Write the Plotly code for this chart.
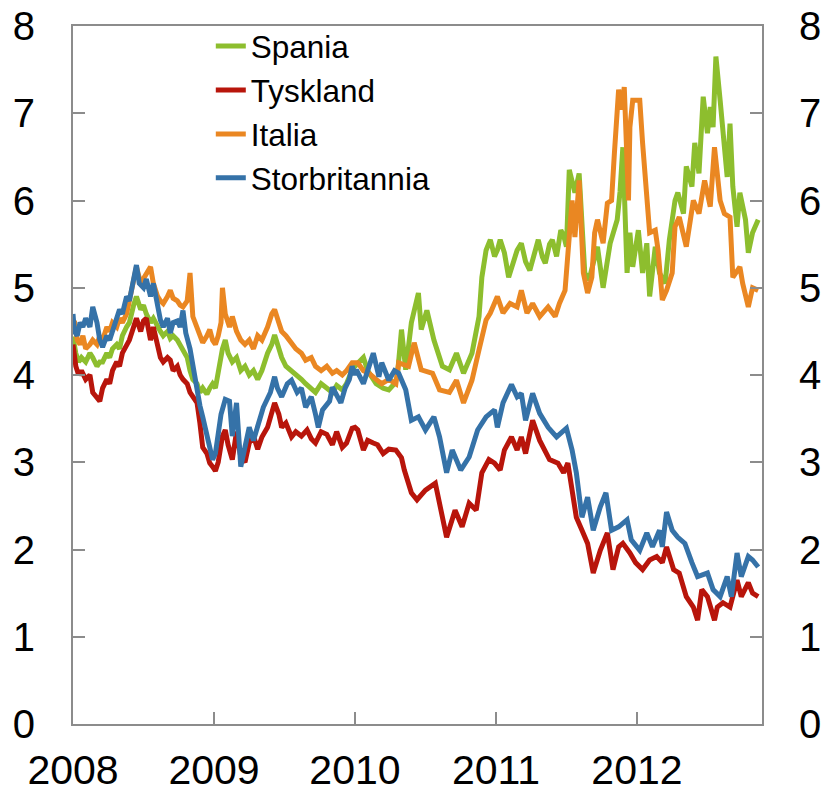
import plotly.graph_objects as go

# ---- Data (decimal years, percent) ----
spania_t = [2008.00, 2008.02, 2008.04, 2008.06, 2008.09, 2008.12, 2008.14, 2008.17, 2008.19, 2008.21,
            2008.24, 2008.26, 2008.28, 2008.31, 2008.33, 2008.35, 2008.38, 2008.40, 2008.43, 2008.45,
            2008.48, 2008.50, 2008.52, 2008.55, 2008.57, 2008.60, 2008.62, 2008.64, 2008.67, 2008.69,
            2008.71, 2008.74, 2008.76, 2008.78, 2008.81, 2008.83, 2008.85, 2008.88, 2008.90, 2008.92,
            2008.95, 2008.97, 2008.99,
            2009.01, 2009.03, 2009.06, 2009.08, 2009.10, 2009.13, 2009.16, 2009.19, 2009.22, 2009.25,
            2009.28, 2009.31, 2009.34, 2009.38, 2009.41, 2009.43, 2009.46, 2009.48, 2009.51, 2009.55,
            2009.58, 2009.62, 2009.65, 2009.69, 2009.72, 2009.76, 2009.80, 2009.84, 2009.87, 2009.91,
            2009.94, 2009.98,
            2010.00, 2010.03, 2010.06, 2010.09, 2010.15, 2010.20, 2010.24, 2010.28, 2010.30, 2010.33,
            2010.36, 2010.40, 2010.45, 2010.47, 2010.51, 2010.56, 2010.62, 2010.67, 2010.72, 2010.77,
            2010.83, 2010.88, 2010.90, 2010.93, 2010.96, 2010.99,
            2011.01, 2011.03, 2011.06, 2011.09, 2011.12, 2011.15, 2011.18, 2011.21, 2011.24, 2011.27,
            2011.30, 2011.33, 2011.35, 2011.38, 2011.40, 2011.43, 2011.46, 2011.48, 2011.50, 2011.52,
            2011.56, 2011.59, 2011.63, 2011.66, 2011.72, 2011.76, 2011.81, 2011.86, 2011.88, 2011.90,
            2011.915, 2011.93, 2011.95, 2011.97,
            2012.01, 2012.04, 2012.07, 2012.09, 2012.13, 2012.16, 2012.20, 2012.23, 2012.27, 2012.29,
            2012.33, 2012.35, 2012.39, 2012.41, 2012.44, 2012.47, 2012.50, 2012.52, 2012.54, 2012.56,
            2012.59, 2012.61, 2012.64, 2012.66, 2012.68, 2012.71, 2012.73, 2012.77, 2012.79, 2012.82,
            2012.86]
spania_v = [4.44, 4.25, 4.15, 4.20, 4.15, 4.25, 4.20, 4.10, 4.15, 4.15,
            4.25, 4.20, 4.30, 4.35, 4.30, 4.45, 4.55, 4.60, 4.80, 4.90,
            4.75, 4.80, 4.70, 4.60, 4.65, 4.55, 4.50, 4.45, 4.50, 4.42,
            4.45, 4.40, 4.35, 4.30, 4.20, 4.05, 3.95, 3.90, 3.80, 3.85,
            3.78, 3.85, 3.90,
            3.85, 4.05, 4.30, 4.40, 4.25, 4.15, 4.20, 4.05, 4.10, 4.00,
            4.05, 3.95, 4.05, 4.25, 4.35, 4.46, 4.30, 4.20, 4.10, 4.05,
            4.00, 3.95, 3.90, 3.85, 3.80, 3.90, 3.85, 3.80, 3.88, 3.83,
            3.90, 4.06,
            4.10, 4.15, 4.20, 4.05, 3.90, 3.85, 3.83, 3.90, 3.98, 4.52,
            4.06, 4.60, 4.94, 4.52, 4.74, 4.40, 4.10, 4.06, 4.25, 4.02,
            4.25, 4.67, 5.12, 5.43, 5.55, 5.36,
            5.43, 5.55, 5.40, 5.12, 5.30, 5.43, 5.51, 5.30, 5.20, 5.40,
            5.55, 5.35, 5.28, 5.50, 5.55, 5.36, 5.66, 5.60, 5.47, 6.35,
            6.09, 6.31, 5.17, 5.09, 5.47, 5.00, 5.51, 5.78, 6.10, 6.61,
            6.04, 5.17, 5.63, 5.24,
            5.66, 5.17, 5.51, 4.90, 5.47, 5.17, 5.05, 5.55, 6.00, 6.09,
            5.85, 6.39, 6.16, 6.66, 6.31, 7.19, 6.77, 7.07, 6.84, 7.65,
            7.15, 6.77, 6.27, 6.88, 6.16, 5.70, 6.09, 5.78, 5.40, 5.63,
            5.78]

tyskland_t = [2008.00, 2008.02, 2008.04, 2008.06, 2008.09, 2008.12, 2008.14, 2008.17, 2008.19, 2008.21,
              2008.24, 2008.26, 2008.28, 2008.31, 2008.33, 2008.35, 2008.38, 2008.40, 2008.43, 2008.45,
              2008.48, 2008.50, 2008.52, 2008.55, 2008.57, 2008.60, 2008.62, 2008.64, 2008.67, 2008.69,
              2008.71, 2008.74, 2008.76, 2008.78, 2008.81, 2008.83, 2008.85, 2008.88, 2008.90, 2008.92,
              2008.95, 2008.97, 2008.99,
              2009.01, 2009.03, 2009.06, 2009.08, 2009.10, 2009.13, 2009.16, 2009.19, 2009.22, 2009.25,
              2009.28, 2009.31, 2009.34, 2009.38, 2009.41, 2009.43, 2009.46, 2009.48, 2009.51, 2009.55,
              2009.58, 2009.62, 2009.66, 2009.69, 2009.72, 2009.76, 2009.80, 2009.84, 2009.87, 2009.91,
              2009.94, 2009.98,
              2010.00, 2010.02, 2010.06, 2010.09, 2010.13, 2010.16, 2010.20, 2010.24, 2010.29, 2010.33,
              2010.35, 2010.40, 2010.44, 2010.50, 2010.57, 2010.62, 2010.65, 2010.71, 2010.76, 2010.81,
              2010.86, 2010.90, 2010.95, 2010.99,
              2011.03, 2011.06, 2011.11, 2011.15, 2011.18, 2011.21, 2011.26, 2011.31, 2011.38, 2011.44,
              2011.48, 2011.51, 2011.54, 2011.57, 2011.61, 2011.65, 2011.69, 2011.74, 2011.79, 2011.83,
              2011.87, 2011.90, 2011.95, 2011.99,
              2012.04, 2012.09, 2012.14, 2012.18, 2012.21, 2012.26, 2012.30, 2012.35, 2012.40, 2012.43,
              2012.46, 2012.50, 2012.55, 2012.57, 2012.61, 2012.66, 2012.71, 2012.74, 2012.79, 2012.82,
              2012.86]
tyskland_v = [4.35, 4.10, 4.00, 4.05, 3.95, 4.00, 3.80, 3.75, 3.70, 3.85,
              3.95, 3.90, 4.05, 4.15, 4.10, 4.25, 4.35, 4.40, 4.55, 4.65,
              4.50, 4.62, 4.65, 4.40, 4.55, 4.30, 4.20, 4.15, 4.20, 4.17,
              4.05, 4.10, 4.00, 3.95, 3.90, 3.80, 3.75, 3.68, 3.45, 3.17,
              3.10, 2.99, 2.95,
              2.90, 3.00, 3.30, 3.37, 3.20, 3.03, 3.35, 3.06, 3.00, 3.22,
              3.30, 3.15, 3.29, 3.40, 3.55, 3.68, 3.55, 3.40, 3.45, 3.29,
              3.35, 3.30, 3.37, 3.27, 3.22, 3.35, 3.32, 3.20, 3.35, 3.17,
              3.22, 3.39,
              3.40, 3.37, 3.14, 3.25, 3.22, 3.20, 3.10, 3.15, 3.14, 3.05,
              2.91, 2.65, 2.57, 2.68, 2.76, 2.37, 2.14, 2.45, 2.26, 2.53,
              2.45, 2.88, 3.03, 2.99,
              2.91, 3.14, 3.29, 3.14, 3.29, 3.10, 3.48, 3.25, 3.03, 2.99,
              2.88, 2.99, 2.68, 2.37, 2.22, 2.07, 1.73, 1.99, 2.19, 1.77,
              2.03, 2.07, 1.96, 1.85,
              1.77, 1.88, 1.92, 1.85, 2.03, 1.77, 1.73, 1.46, 1.34, 1.19,
              1.54, 1.46, 1.19, 1.34, 1.39, 1.34, 1.65, 1.46, 1.62, 1.50,
              1.46]

italia_t = [2008.00, 2008.01, 2008.03, 2008.05, 2008.07, 2008.09, 2008.12, 2008.14, 2008.17, 2008.19,
            2008.21, 2008.24, 2008.26, 2008.28, 2008.31, 2008.33, 2008.35, 2008.38, 2008.40, 2008.43,
            2008.45, 2008.48, 2008.50, 2008.52, 2008.55, 2008.57, 2008.60, 2008.62, 2008.64, 2008.67,
            2008.69, 2008.71, 2008.74, 2008.76, 2008.78, 2008.81, 2008.83, 2008.85, 2008.88, 2008.90,
            2008.92, 2008.95, 2008.97, 2008.99,
            2009.01, 2009.03, 2009.05, 2009.06, 2009.08, 2009.11, 2009.13, 2009.16, 2009.19, 2009.22,
            2009.25, 2009.28, 2009.31, 2009.34, 2009.38, 2009.41, 2009.43, 2009.46, 2009.48, 2009.51,
            2009.55, 2009.58, 2009.62, 2009.65, 2009.69, 2009.72, 2009.76, 2009.80, 2009.84, 2009.87,
            2009.91, 2009.94, 2009.98,
            2010.02, 2010.06, 2010.10, 2010.15, 2010.19, 2010.24, 2010.29, 2010.31, 2010.38, 2010.42,
            2010.47, 2010.55, 2010.60, 2010.67, 2010.72, 2010.77, 2010.83, 2010.88, 2010.93, 2010.96,
            2011.01, 2011.05, 2011.10, 2011.15, 2011.18, 2011.22, 2011.26, 2011.31, 2011.37, 2011.42,
            2011.45, 2011.49, 2011.51, 2011.54, 2011.56, 2011.59, 2011.62, 2011.65, 2011.68, 2011.70,
            2011.72, 2011.76, 2011.79, 2011.82, 2011.84, 2011.87, 2011.89, 2011.91, 2011.94, 2011.95,
            2011.97,
            2012.02, 2012.04, 2012.07, 2012.09, 2012.13, 2012.15, 2012.18, 2012.21, 2012.25, 2012.27,
            2012.30, 2012.35, 2012.40, 2012.44, 2012.48, 2012.52, 2012.55, 2012.59, 2012.62, 2012.66,
            2012.68, 2012.73, 2012.75, 2012.79, 2012.82, 2012.86]
italia_v = [4.50, 4.62, 4.40, 4.35, 4.45, 4.30, 4.35, 4.40, 4.35, 4.45,
            4.40, 4.55, 4.50, 4.60, 4.55, 4.65, 4.60, 4.70, 4.85, 5.10,
            5.24, 5.05, 5.10, 5.15, 5.24, 5.05, 4.90, 4.85, 4.82, 4.90,
            4.97, 4.88, 4.85, 4.80, 4.78, 4.85, 5.17, 4.67, 4.55, 4.45,
            4.37, 4.45, 4.52, 4.40,
            4.35, 4.45, 4.60, 5.00, 4.70, 4.55, 4.67, 4.50, 4.40, 4.35,
            4.40, 4.30, 4.45, 4.40, 4.55, 4.70, 4.75, 4.60, 4.50, 4.45,
            4.35, 4.30, 4.25, 4.17, 4.20, 4.10, 4.05, 4.10, 4.02, 4.05,
            4.00, 4.05, 4.14,
            4.14, 4.05, 4.02, 3.95, 3.90, 3.95, 3.90, 4.14, 4.10, 4.37,
            4.06, 4.02, 3.83, 3.80, 3.94, 3.68, 3.94, 4.29, 4.63, 4.71,
            4.90, 4.71, 4.82, 4.78, 4.97, 4.71, 4.82, 4.67, 4.78, 4.67,
            4.82, 4.97, 5.47, 6.00, 5.58, 6.23, 5.17, 4.94, 5.12, 5.63,
            5.78, 5.51, 5.97, 6.00, 6.54, 7.27, 7.04, 7.30, 6.00, 6.84,
            7.15,
            7.15, 6.66, 6.00, 5.63, 5.66, 5.43, 4.86, 4.97, 5.17, 5.70,
            5.81, 5.47, 6.00, 5.85, 6.23, 5.93, 6.61, 6.00, 5.85, 5.81,
            5.12, 5.24, 5.05, 4.78, 5.00, 4.97]

storbritannia_t = [2008.00, 2008.01, 2008.03, 2008.05, 2008.07, 2008.09, 2008.12, 2008.14, 2008.17, 2008.19,
                   2008.21, 2008.24, 2008.26, 2008.28, 2008.31, 2008.33, 2008.35, 2008.38, 2008.40, 2008.43,
                   2008.45, 2008.47, 2008.50, 2008.52, 2008.55, 2008.57, 2008.60, 2008.62, 2008.64, 2008.67,
                   2008.69, 2008.71, 2008.74, 2008.76, 2008.78, 2008.80, 2008.83, 2008.85, 2008.88, 2008.90,
                   2008.92, 2008.95, 2008.97, 2008.99,
                   2009.01, 2009.05, 2009.08, 2009.11, 2009.13, 2009.16, 2009.19, 2009.22, 2009.25, 2009.28,
                   2009.33, 2009.35, 2009.40, 2009.43, 2009.45, 2009.48, 2009.52, 2009.55, 2009.59, 2009.62,
                   2009.65, 2009.69, 2009.72, 2009.74, 2009.77, 2009.82, 2009.84, 2009.88, 2009.90, 2009.93,
                   2009.96, 2009.98,
                   2010.00, 2010.01, 2010.06, 2010.09, 2010.13, 2010.17, 2010.19, 2010.24, 2010.28, 2010.31,
                   2010.36, 2010.40, 2010.45, 2010.50, 2010.56, 2010.60, 2010.65, 2010.69, 2010.75, 2010.81,
                   2010.87, 2010.93, 2010.99,
                   2011.01, 2011.05, 2011.11, 2011.15, 2011.18, 2011.21, 2011.26, 2011.31, 2011.37, 2011.43,
                   2011.50, 2011.54, 2011.57, 2011.61, 2011.65, 2011.69, 2011.74, 2011.78, 2011.82, 2011.87,
                   2011.93, 2011.96, 2011.99,
                   2012.02, 2012.07, 2012.11, 2012.16, 2012.18, 2012.21, 2012.25, 2012.29, 2012.34, 2012.39,
                   2012.43, 2012.50, 2012.54, 2012.59, 2012.64, 2012.67, 2012.71, 2012.74, 2012.79, 2012.82,
                   2012.86]
storbritannia_v = [4.70, 4.50, 4.45, 4.60, 4.55, 4.65, 4.55, 4.78, 4.60, 4.40,
                   4.32, 4.45, 4.40, 4.50, 4.65, 4.75, 4.70, 4.90, 4.85, 5.10,
                   5.26, 5.05, 5.00, 5.10, 4.90, 5.05, 4.80, 4.63, 4.55, 4.65,
                   4.48, 4.60, 4.62, 4.55, 4.74, 4.48, 4.30, 4.10, 3.83, 3.65,
                   3.52, 3.30, 3.14, 3.03,
                   3.10, 3.55, 3.72, 3.70, 3.30, 3.68, 2.95, 3.15, 3.40, 3.25,
                   3.55, 3.63, 3.80, 3.98, 3.85, 3.75, 3.90, 3.94, 3.80, 3.85,
                   3.63, 3.75, 3.55, 3.40, 3.60, 3.70, 3.86, 3.75, 3.68, 3.85,
                   3.95, 4.10,
                   4.00, 4.06, 3.90, 4.05, 4.25, 3.98, 4.14, 3.94, 4.05, 4.02,
                   3.83, 3.48, 3.52, 3.37, 3.52, 3.29, 2.88, 3.14, 2.91, 3.06,
                   3.37, 3.52, 3.60,
                   3.40, 3.68, 3.89, 3.75, 3.79, 3.48, 3.79, 3.56, 3.40, 3.29,
                   3.39, 3.14, 2.88, 2.37, 2.60, 2.22, 2.49, 2.65, 2.22, 2.26,
                   2.34, 2.11, 2.05,
                   1.99, 2.19, 2.03, 2.22, 2.03, 2.43, 2.22, 2.14, 2.07, 1.85,
                   1.69, 1.73, 1.54, 1.46, 1.69, 1.46, 1.96, 1.69, 1.92, 1.88,
                   1.80]

series_names = ["Spania", "Tyskland", "Italia", "Storbritannia"]
series_colors = ["#8DBE2E", "#B8150B", "#EA8722", "#3572A8"]
series_yaxis = ["y", "y", "y", "y2"]

x_tickvals = [2008, 2009, 2010, 2011, 2012]
x_ticktext = ["2008", "2009", "2010", "2011", "2012"]
y_tickvals = [0, 1, 2, 3, 4, 5, 6, 7, 8]

FONT = "Liberation Sans, Arial, sans-serif"
AXIS_GREY = "#8C8C8C"

fig = go.Figure()
data = [(spania_t, spania_v), (tyskland_t, tyskland_v),
        (italia_t, italia_v), (storbritannia_t, storbritannia_v)]
for (t, v), name, col, ya in zip(data, series_names, series_colors, series_yaxis):
    fig.add_trace(go.Scatter(x=t, y=v, mode="lines", name=name, yaxis=ya,
                             line=dict(color=col, width=5)))

fig.update_layout(
    width=825, height=794,
    margin=dict(l=73, r=63, t=26, b=70),
    paper_bgcolor="white", plot_bgcolor="white",
    font=dict(family=FONT, color="black", size=40),
    showlegend=True,
    legend=dict(x=0.2, y=1.01, xanchor="left", yanchor="top",
                font=dict(size=31.5, family=FONT), bgcolor="rgba(0,0,0,0)",
                tracegroupgap=0, itemsizing="constant", traceorder="normal"),
    xaxis=dict(range=[2008, 2012.887], tickvals=x_tickvals, ticktext=x_ticktext,
               ticks="inside", ticklen=12, tickwidth=2, tickcolor=AXIS_GREY,
               showline=True, linecolor=AXIS_GREY, linewidth=2, mirror=True,
               showgrid=False, zeroline=False, ticklabelstandoff=9,
               tickfont=dict(size=41), automargin=False),
    yaxis=dict(range=[0, 8], tickvals=y_tickvals,
               ticks="inside", ticklen=12, tickwidth=2, tickcolor=AXIS_GREY,
               showline=True, linecolor=AXIS_GREY, linewidth=2,
               showgrid=False, zeroline=False, ticklabelstandoff=28,
               automargin=False),
    yaxis2=dict(range=[0, 8], tickvals=y_tickvals, overlaying="y", side="right",
                ticks="inside", ticklen=12, tickwidth=2, tickcolor=AXIS_GREY,
                showline=True, linecolor=AXIS_GREY, linewidth=2,
                showgrid=False, zeroline=False, ticklabelstandoff=27,
                automargin=False),
)

# remove the default 8px page margin so the figure fills the window exactly
fig.write_html("out.html",
               config={"displayModeBar": False},
               post_script="document.body.style.margin='0';document.body.style.overflow='hidden';")
